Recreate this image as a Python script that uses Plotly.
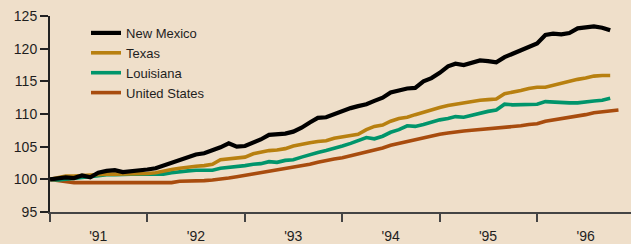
import plotly.graph_objects as go
import pandas as pd

# Monthly index values, January 1991 = 100
new_mexico = [100.0, 100.2, 100.3, 100.2, 100.6, 100.3, 101.0, 101.3, 101.4, 101.1,
              101.2, 101.4, 101.5, 101.7, 102.1, 102.6, 103.1, 103.5, 103.8, 104.0,
              104.4, 104.9, 105.5, 105.0, 105.1, 105.6, 106.1, 106.8, 106.9, 107.0,
              107.3, 107.9, 108.7, 109.4, 109.5, 110.0, 110.5, 110.9, 111.2, 111.5,
              112.0, 112.5, 113.3, 113.6, 113.9, 114.0, 115.0, 115.5, 116.3, 117.3,
              117.7, 117.5, 117.8, 118.2, 118.1, 117.9, 118.7, 119.2, 119.8, 120.3,
              120.8, 122.1, 122.3, 122.2, 122.4, 123.1, 123.3, 123.4, 123.2, 122.8]
texas = [100.0, 100.3, 100.5, 100.5, 100.6, 100.7, 100.8, 100.8, 100.8, 100.8,
         100.8, 100.8, 100.9, 101.0, 101.3, 101.5, 101.7, 101.9, 102.0, 102.1,
         102.3, 103.0, 103.1, 103.2, 103.4, 103.9, 104.2, 104.4, 104.5, 104.7,
         105.1, 105.4, 105.6, 105.8, 105.9, 106.3, 106.5, 106.7, 106.9, 107.6,
         108.1, 108.3, 108.9, 109.3, 109.5, 109.9, 110.3, 110.7, 111.0, 111.3,
         111.5, 111.7, 111.9, 112.1, 112.2, 112.3, 113.1, 113.3, 113.6, 113.9,
         114.1, 114.1, 114.4, 114.7, 115.0, 115.3, 115.5, 115.8, 115.9, 115.9]
louisiana = [100.0, 99.9, 100.0, 100.2, 100.3, 100.4, 100.6, 100.7, 100.7, 100.8,
             100.8, 100.8, 100.8, 100.7, 100.8, 101.0, 101.2, 101.3, 101.4, 101.4,
             101.4, 101.7, 101.8, 101.9, 102.1, 102.3, 102.4, 102.7, 102.6, 102.9,
             103.0, 103.4, 103.8, 104.1, 104.4, 104.7, 105.1, 105.5, 105.9, 106.4,
             106.2, 106.6, 107.2, 107.6, 108.2, 108.1, 108.4, 108.8, 109.1, 109.3,
             109.6, 109.5, 109.8, 110.2, 110.4, 110.6, 111.5, 111.4, 111.4, 111.4,
             111.5, 111.9, 111.8, 111.8, 111.7, 111.7, 111.9, 112.0, 112.1, 112.4]
united_states = [100.0, 99.8, 99.6, 99.5, 99.5, 99.5, 99.5, 99.5, 99.5, 99.5,
                 99.5, 99.4, 99.4, 99.4, 99.4, 99.5, 99.7, 99.7, 99.8, 99.8,
                 99.9, 100.0, 100.2, 100.4, 100.6, 100.8, 101.0, 101.2, 101.4, 101.6,
                 101.8, 102.0, 102.3, 102.6, 102.9, 103.1, 103.3, 103.6, 103.9, 104.2,
                 104.5, 104.8, 105.2, 105.5, 105.7, 106.0, 106.3, 106.6, 106.9, 107.1,
                 107.3, 107.4, 107.5, 107.6, 107.7, 107.8, 108.0, 108.1, 108.2, 108.4,
                 108.5, 108.9, 109.1, 109.2, 109.4, 109.7, 109.9, 110.2, 110.3, 110.4,
                 110.6]

year_labels = ["'91", "'92", "'93", "'94", "'95", "'96"]
y_ticks = [95, 100, 105, 110, 115, 120, 125]

months = pd.date_range("1991-01-01", periods=len(united_states), freq="MS")
year_starts = pd.date_range("1991-01-01", periods=len(year_labels), freq="YS")
mid_years = pd.date_range("1991-07-01", periods=len(year_labels), freq="12MS")

series = [
    ("United States", united_states, "#A84C0E", 3.6),
    ("Louisiana", louisiana, "#00956B", 3.6),
    ("Texas", texas, "#B88010", 3.6),
    ("New Mexico", new_mexico, "#000000", 4.2),
]

bg = "#EFDFCA"
font = "Liberation Sans, Arial, sans-serif"

fig = go.Figure()
for name, vals, color, w in series:
    fig.add_trace(go.Scatter(
        x=months[:len(vals)], y=vals, name=name, mode="lines",
        line=dict(color=color, width=w),
    ))

fig.update_layout(
    width=631, height=244,
    margin=dict(l=50, r=0, t=16, b=22),
    paper_bgcolor=bg, plot_bgcolor=bg,
    font=dict(family=font, size=14, color="#1E1E1E"),
    showlegend=True,
    legend=dict(
        traceorder="reversed",
        x=0.062, y=0.99, xanchor="left", yanchor="top",
        bgcolor="rgba(0,0,0,0)", borderwidth=0,
        font=dict(size=13, color="#1E1E1E"),
        itemwidth=30, tracegroupgap=0,
    ),
    xaxis=dict(
        range=["1991-01-01", "1996-12-18"],
        tickmode="array", tickvals=mid_years, ticktext=year_labels,
        ticks="outside", ticklen=10, tickcolor="rgba(0,0,0,0)",
        showgrid=False, zeroline=False,
        showline=True, linecolor="#444444", linewidth=2,
        minor=dict(tickmode="array", tickvals=year_starts, ticks="outside",
                   ticklen=8, tickwidth=2, tickcolor="#444444", showgrid=False),
        tickfont=dict(size=14, color="#1E1E1E"),
    ),
    yaxis=dict(
        range=[95, 125],
        tickmode="array", tickvals=y_ticks,
        ticks="outside", ticklen=8, tickwidth=2, tickcolor="#222222",
        showgrid=False, zeroline=False,
        showline=True, linecolor="#222222", linewidth=2,
        tickfont=dict(size=14, color="#1E1E1E"),
    ),
)

fig.write_html(
    "out.html",
    config={"displayModeBar": False, "staticPlot": True},
    post_script="document.body.style.margin='0';document.body.style.overflow='hidden';",
)
